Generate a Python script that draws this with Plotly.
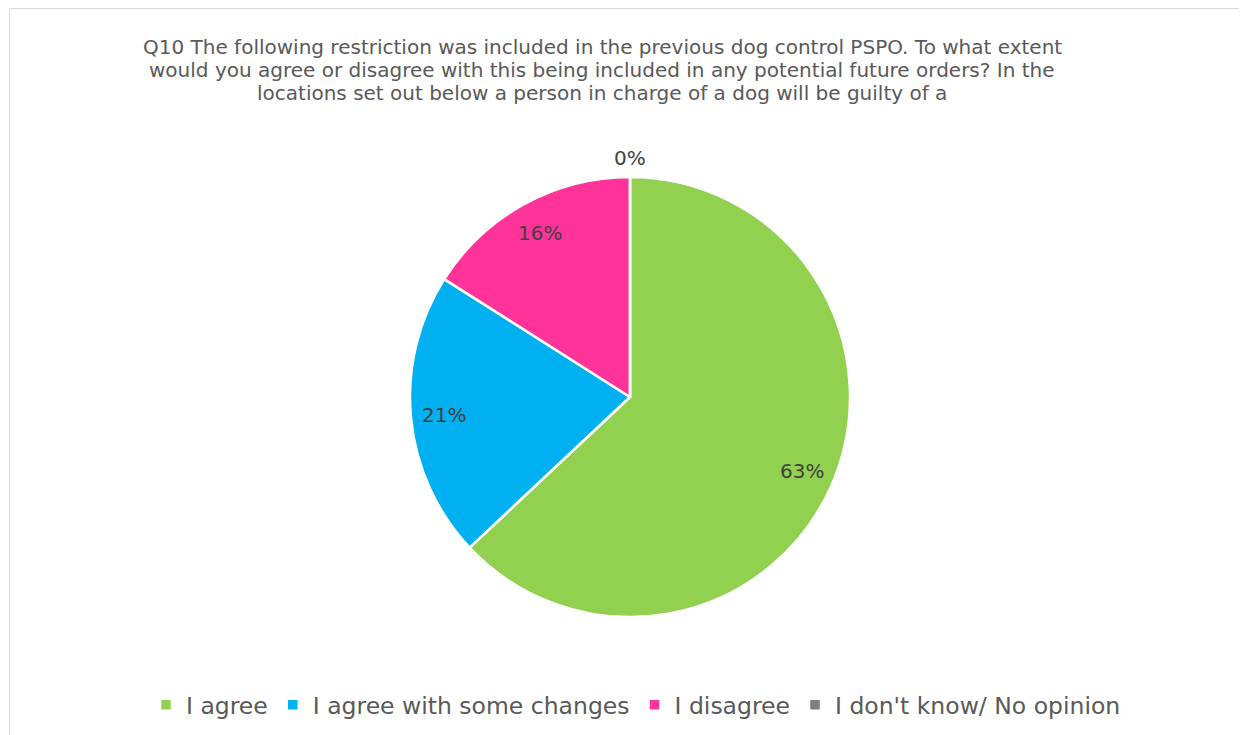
import math
import plotly.graph_objects as go

W, H = 1239, 727   # page body margin of 8px is added by the browser
OFF = 8

labels = ["I agree", "I agree with some changes", "I disagree", "I don't know/ No opinion"]
values = [63, 21, 16, 0]
colors = ["#92D050", "#00B0F0", "#FF3399", "#7F7F7F"]
title_lines = [
    "Q10 The following restriction was included in the previous dog control PSPO. To what extent",
    "would you agree or disagree with this being included in any potential future orders? In the",
    "locations set out below a person in charge of a dog will be guilty of a",
]

FONT = "DejaVu Sans"
TXT = "#595959"


def px_x(x):
    return (x - OFF) / W


def px_y(y):
    return 1 - (y - OFF) / H


# pie geometry (reference pixels)
cx, cy, R = 630, 397, 220
dom_x = [px_x(cx - R), px_x(cx + R)]
dom_y = [px_y(cy + R), px_y(cy - R)]

fig = go.Figure()
fig.add_trace(go.Pie(
    labels=labels, values=values, sort=False, direction="clockwise", rotation=0,
    marker=dict(colors=colors, line=dict(color="white", width=2.5)),
    textinfo="none", hoverinfo="label+percent",
    domain=dict(x=dom_x, y=dom_y), showlegend=True,
))

# data labels computed from the values
total = sum(values)
cum = 0
for v in values:
    mid = (cum + v / 2) / total * 2 * math.pi
    cum += v
    f = 0.85 if v > 0 else 1.085
    lx = cx + f * R * math.sin(mid)
    ly = cy - f * R * math.cos(mid)
    fig.add_annotation(x=px_x(lx), y=px_y(ly), xref="paper", yref="paper",
                       xanchor="center", yanchor="middle",
                       text=f"{round(v / total * 100)}%", showarrow=False,
                       font=dict(family=FONT, size=20, color="#404040"))

for i, line in enumerate(title_lines):
    fig.add_annotation(x=px_x(602), y=px_y(47 + 23 * i), xref="paper", yref="paper",
                       text=line, showarrow=False, xanchor="center", yanchor="middle",
                       font=dict(family=FONT, size=20, color=TXT))

fig.add_shape(type="rect", xref="paper", yref="paper",
              x0=px_x(9.5), x1=px_x(1246.5), y0=-0.02, y1=px_y(8.5),
              line=dict(color="#D9D9D9", width=1))

fig.update_layout(
    width=W, height=H, margin=dict(l=0, r=0, t=0, b=0),
    paper_bgcolor="white", plot_bgcolor="white",
    legend=dict(orientation="h", x=px_x(636), xanchor="center", y=px_y(705), yanchor="middle",
                font=dict(family=FONT, size=23.5, color=TXT), traceorder="normal"),
)

fig.write_html("out.html")
